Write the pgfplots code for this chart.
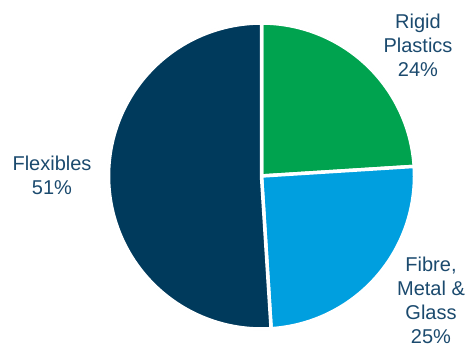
\documentclass[border=0pt]{standalone}
\usepackage{pgfplots}
\pgfplotsset{compat=1.18}
\usepackage{fontspec}
\setmainfont{Liberation Sans}
\definecolor{navy}{HTML}{003A5C}
\definecolor{pgreen}{HTML}{00A34F}
\definecolor{pblue}{HTML}{009FDF}
\definecolor{lbl}{HTML}{1B4A6E}
\begin{document}
\begin{tikzpicture}
\useasboundingbox (0,0) rectangle (473pt,349pt);
% shares (percent), clockwise from 12 o'clock
\def\cx{261.5}\def\cy{173}\def\rr{153}
\def\sRigid{24}\def\sFibre{25}\def\sFlex{51}
\begin{axis}[
  at={(0,0)}, anchor=south west,
  scale only axis, width=473pt, height=349pt,
  xmin=0, xmax=473, ymin=0, ymax=349,
  hide axis, clip=false,
  samples=120, variable=\t,
]
% faint halo
\addplot[draw=black!6, line width=1.5pt, domain=0:360] ({\cx+(\rr+0.5)*cos(\t)},{\cy+(\rr+0.5)*sin(\t)});
% Rigid Plastics
\addplot[fill=pgreen, draw=white, line width=3.5pt, line join=round,
  domain={90-3.6*\sRigid}:90] ({\cx+\rr*cos(\t)},{\cy+\rr*sin(\t)}) -- (axis cs:\cx,\cy) -- cycle;
% Fibre, Metal & Glass
\addplot[fill=pblue, draw=white, line width=3.5pt, line join=round,
  domain={90-3.6*(\sRigid+\sFibre)}:{90-3.6*\sRigid}] ({\cx+\rr*cos(\t)},{\cy+\rr*sin(\t)}) -- (axis cs:\cx,\cy) -- cycle;
% Flexibles
\addplot[fill=navy, draw=white, line width=3.5pt, line join=round,
  domain={90-3.6*(\sRigid+\sFibre+\sFlex)+360}:{90-3.6*(\sRigid+\sFibre)+360}] ({\cx+\rr*cos(\t)},{\cy+\rr*sin(\t)}) -- (axis cs:\cx,\cy) -- cycle;
\node[align=center, text=lbl, font=\fontsize{20}{24}\selectfont] at (axis cs:418,304) {Rigid\\Plastics\\24\%};
\node[align=center, text=lbl, font=\fontsize{20}{24}\selectfont] at (axis cs:52,174) {Flexibles\\51\%};
\node[align=center, text=lbl, font=\fontsize{20}{24}\selectfont] at (axis cs:431,49) {Fibre,\\Metal \&\\Glass\\25\%};
\end{axis}
\end{tikzpicture}
\end{document}
